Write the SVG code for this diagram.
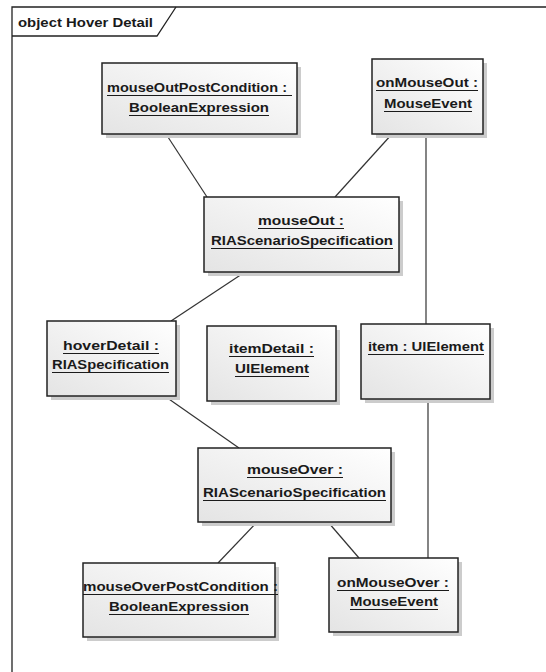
<svg xmlns="http://www.w3.org/2000/svg" width="546" height="672" viewBox="0 0 546 672">
<defs>
<linearGradient id="g" x1="0" y1="1" x2="1" y2="0">
<stop offset="0" stop-color="#e4e4e4"/>
<stop offset="1" stop-color="#ffffff"/>
</linearGradient>
</defs>
<style>
.box{fill:url(#g);stroke:#222;stroke-width:1.5}
.sh{fill:#cccccc}
.t{font-family:"Liberation Sans",Arial,sans-serif;font-size:13.5px;font-weight:bold;fill:#1a1a1a;text-anchor:middle}
.u{stroke:#1a1a1a;stroke-width:1}
.c{stroke:#333;stroke-width:1.2;fill:none}
.fr{stroke:#222;stroke-width:1.3;fill:none}
</style>
<rect width="546" height="672" fill="#fff"/>
<g id="frame">
<path class="fr" d="M12,672 V7 H546"/>
<path class="fr" d="M12,36 H157 L176,7"/>
<text x="18" y="27" class="t" style="text-anchor:start" textLength="135" lengthAdjust="spacingAndGlyphs">object Hover Detail</text>
</g>
<g id="connectors">
<line class="c" x1="166" y1="134" x2="207" y2="197"/>
<line class="c" x1="392" y1="134" x2="335" y2="197"/>
<line class="c" x1="426" y1="134" x2="426" y2="324"/>
<line class="c" x1="242" y1="274" x2="171" y2="321"/>
<line class="c" x1="166" y1="397" x2="239" y2="448"/>
<line class="c" x1="257" y1="522" x2="218" y2="563"/>
<line class="c" x1="328" y1="522" x2="359" y2="558"/>
<line class="c" x1="428" y1="399" x2="428" y2="558"/>
</g>
<g id="mouseOutPostCondition">
<rect class="sh" x="106" y="67" width="195" height="71"/>
<rect class="box" x="102" y="63" width="195" height="71"/>
<text class="t" x="197" y="92" textLength="180" lengthAdjust="spacingAndGlyphs">mouseOutPostCondition :</text>
<line class="u" x1="107" y1="95.5" x2="292" y2="95.5"/>
<text class="t" x="199" y="112" textLength="140" lengthAdjust="spacingAndGlyphs">BooleanExpression</text>
<line class="u" x1="129" y1="115.5" x2="269" y2="115.5"/>
</g>
<g id="onMouseOut">
<rect class="sh" x="376" y="63" width="111" height="75"/>
<rect class="box" x="372" y="59" width="111" height="75"/>
<text class="t" x="427" y="87" textLength="102" lengthAdjust="spacingAndGlyphs">onMouseOut :</text>
<line class="u" x1="376" y1="90.5" x2="478" y2="90.5"/>
<text class="t" x="428" y="108" textLength="88" lengthAdjust="spacingAndGlyphs">MouseEvent</text>
<line class="u" x1="384" y1="111.5" x2="472" y2="111.5"/>
</g>
<g id="mouseOut">
<rect class="sh" x="208" y="201" width="195" height="75"/>
<rect class="box" x="204" y="197" width="195" height="75"/>
<text class="t" x="301" y="225" textLength="86" lengthAdjust="spacingAndGlyphs">mouseOut :</text>
<line class="u" x1="258" y1="228.5" x2="344" y2="228.5"/>
<text class="t" x="302" y="245" textLength="182" lengthAdjust="spacingAndGlyphs">RIAScenarioSpecification</text>
<line class="u" x1="211" y1="248.5" x2="393" y2="248.5"/>
</g>
<g id="hoverDetail">
<rect class="sh" x="51" y="325" width="129" height="75"/>
<rect class="box" x="47" y="321" width="129" height="75"/>
<text class="t" x="111" y="350" textLength="96" lengthAdjust="spacingAndGlyphs">hoverDetail :</text>
<line class="u" x1="63" y1="353.5" x2="159" y2="353.5"/>
<text class="t" x="110.5" y="369" textLength="117" lengthAdjust="spacingAndGlyphs">RIASpecification</text>
<line class="u" x1="52" y1="372.5" x2="169" y2="372.5"/>
</g>
<g id="itemDetail">
<rect class="sh" x="211" y="330" width="129" height="75"/>
<rect class="box" x="207" y="326" width="129" height="75"/>
<text class="t" x="271.5" y="353" textLength="85" lengthAdjust="spacingAndGlyphs">itemDetail :</text>
<line class="u" x1="229" y1="356.5" x2="314" y2="356.5"/>
<text class="t" x="272" y="373" textLength="74" lengthAdjust="spacingAndGlyphs">UIElement</text>
<line class="u" x1="235" y1="376.5" x2="309" y2="376.5"/>
</g>
<g id="item">
<rect class="sh" x="365" y="328" width="129" height="75"/>
<rect class="box" x="361" y="324" width="129" height="75"/>
<text class="t" x="426" y="351" textLength="116" lengthAdjust="spacingAndGlyphs">item : UIElement</text>
<line class="u" x1="368" y1="354.5" x2="484" y2="354.5"/>
</g>
<g id="mouseOver">
<rect class="sh" x="202" y="452" width="193" height="74"/>
<rect class="box" x="198" y="448" width="193" height="74"/>
<text class="t" x="295" y="474" textLength="96" lengthAdjust="spacingAndGlyphs">mouseOver :</text>
<line class="u" x1="247" y1="477.5" x2="343" y2="477.5"/>
<text class="t" x="294.5" y="497" textLength="183" lengthAdjust="spacingAndGlyphs">RIAScenarioSpecification</text>
<line class="u" x1="203" y1="500.5" x2="386" y2="500.5"/>
</g>
<g id="mouseOverPostCondition">
<rect class="sh" x="87" y="567" width="192" height="74"/>
<rect class="box" x="83" y="563" width="192" height="74"/>
<text class="t" x="180.5" y="591" textLength="195" lengthAdjust="spacingAndGlyphs">mouseOverPostCondition :</text>
<line class="u" x1="83" y1="594.5" x2="278" y2="594.5"/>
<text class="t" x="179" y="611" textLength="140" lengthAdjust="spacingAndGlyphs">BooleanExpression</text>
<line class="u" x1="109" y1="614.5" x2="249" y2="614.5"/>
</g>
<g id="onMouseOver">
<rect class="sh" x="333" y="562" width="129" height="74"/>
<rect class="box" x="329" y="558" width="129" height="74"/>
<text class="t" x="393" y="587" textLength="112" lengthAdjust="spacingAndGlyphs">onMouseOver :</text>
<line class="u" x1="337" y1="590.5" x2="449" y2="590.5"/>
<text class="t" x="394" y="606" textLength="88" lengthAdjust="spacingAndGlyphs">MouseEvent</text>
<line class="u" x1="350" y1="609.5" x2="438" y2="609.5"/>
</g>
</svg>
